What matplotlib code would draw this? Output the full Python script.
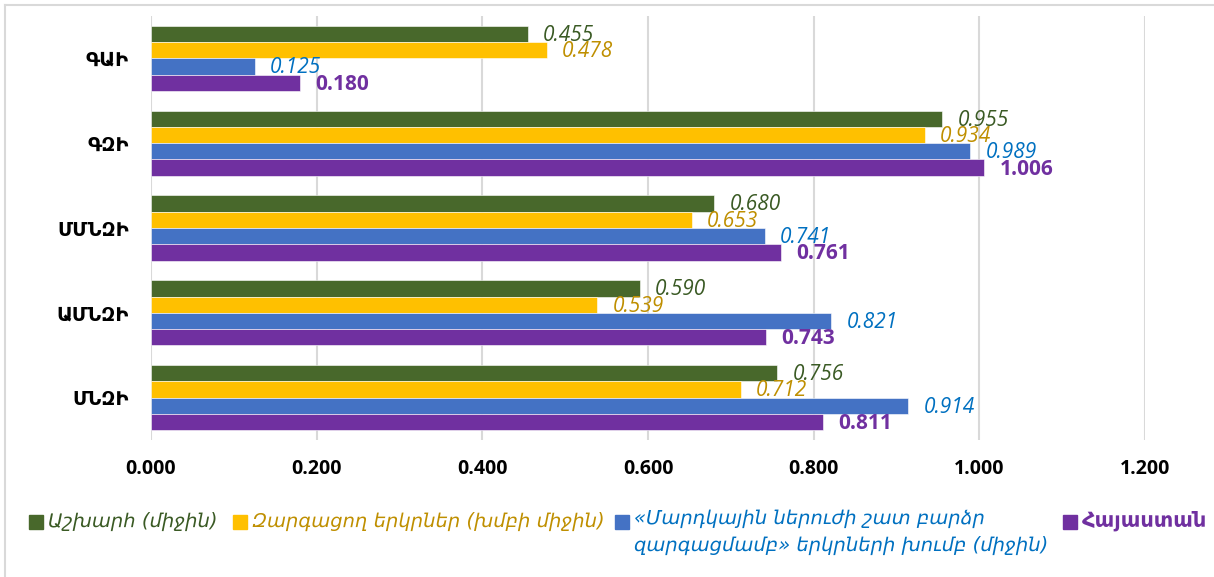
import numpy as np
import matplotlib
matplotlib.use("Agg")
import matplotlib.pyplot as plt
from matplotlib.patches import Rectangle
from matplotlib.lines import Line2D

# categories listed bottom -> top
categories = ["ՄՆԶԻ", "ԱՄՆԶԻ", "ՄՄՆԶԻ", "ԳԶԻ", "ԳԱԻ"]

world = [0.756, 0.590, 0.680, 0.955, 0.455]
developing = [0.712, 0.539, 0.653, 0.934, 0.478]
very_high = [0.914, 0.821, 0.741, 0.989, 0.125]
armenia = [0.811, 0.743, 0.761, 1.006, 0.180]

series_names = [
    "Աշխարհ (միջին)",
    "Զարգացող երկրներ (խմբի միջին)",
    "«Մարդկային ներուժի շատ բարձր\nզարգացմամբ» երկրների խումբ (միջին)",
    "Հայաստան",
]
xticks = [0.0, 0.2, 0.4, 0.6, 0.8, 1.0, 1.2]

bar_colors = ["#48682B", "#FFC000", "#4472C4", "#7030A0"]
label_colors = ["#3A5A24", "#BF8F00", "#0070C0", "#7030A0"]
NUM_FONT = ["Open Sans", "DejaVu Sans"]
ARM_FONT = ["DejaVu Sans"]

fig = plt.figure(figsize=(12.14, 5.77), dpi=100)
W, H = 1214, 577
ax = fig.add_axes([151 / W, 1 - 440 / H, (1145 - 151) / W, (440 - 16) / H])

y = np.arange(len(categories))
h = 0.192
offsets = [1.5 * h, 0.5 * h, -0.5 * h, -1.5 * h]
all_series = [world, developing, very_high, armenia]

for vals, off, bc, lc, k in zip(all_series, offsets, bar_colors, label_colors, range(4)):
    bars = ax.barh(y + off, vals, height=h, color=bc, edgecolor="white",
                   linewidth=0.4, zorder=3)
    for b, v in zip(bars, vals):
        ax.annotate(f"{v:.3f}", (v, b.get_y() + b.get_height() / 2),
                    xytext=(11, -1), textcoords="offset points",
                    ha="left", va="center", color=lc, fontsize=15,
                    family=NUM_FONT,
                    style="normal" if k == 3 else "italic",
                    fontweight="bold" if k == 3 else "normal",
                    annotation_clip=False, zorder=4)

ax.set_xlim(0, 1.2)
ax.set_ylim(-0.5, 4.5)
ax.set_xticks(xticks)
ax.set_xticklabels([f"{t:.3f}" for t in xticks], fontsize=14,
                   fontweight="bold", family=NUM_FONT)
ax.set_yticks(y)
ax.set_yticklabels(categories, fontsize=14, fontweight="bold", family=ARM_FONT)
ax.tick_params(axis="both", length=0)
ax.tick_params(axis="x", pad=14)
ax.tick_params(axis="y", pad=16)
ax.grid(axis="x", color="#D9D9D9", linewidth=1.5, zorder=0)
for s in ax.spines.values():
    s.set_visible(False)

# chart area border (left and top)
fig.add_artist(Line2D([5 / W, 5 / W], [0, 1 - 5 / H], color="#D9D9D9", lw=1.5))
fig.add_artist(Line2D([5 / W, 1], [1 - 5 / H, 1 - 5 / H], color="#D9D9D9", lw=1.5))

# legend drawn by hand
legend_x = [29, 233, 615, 1063]
for name, bc, lc, lx, k in zip(series_names, bar_colors, label_colors, legend_x, range(4)):
    fig.add_artist(Rectangle((lx / W, 1 - 529 / H), 14 / W, 14 / H,
                             transform=fig.transFigure, color=bc))
    multi = "\n" in name
    fig.text((lx + 19) / W, 1 - (509 if multi else 521) / H, name, color=lc,
             fontsize=15 if k == 3 else 14,
             family=ARM_FONT, style="normal" if k == 3 else "italic",
             fontweight="bold" if k == 3 else "normal",
             ha="left", va="top" if multi else "center",
             linespacing=1.5)

fig.savefig("out.png", dpi=100)
